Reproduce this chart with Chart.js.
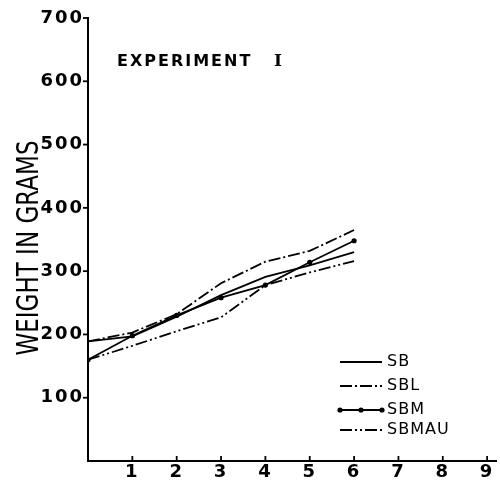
<!DOCTYPE html>
<html>
<head>
<meta charset="utf-8">
<script src="https://cdn.jsdelivr.net/npm/chart.js@4.4.1/dist/chart.umd.min.js"></script>
<style>
  html, body { margin: 0; padding: 0; background: #fff; }
  #chart { display: block; }
</style>
</head>
<body>
<canvas id="chart" width="500" height="488"></canvas>
<script>
// weeks on the x axis, weights in grams
const weeks = [0, 1, 2, 3, 4, 5, 6];
const seriesNames = ['SB', 'SBL', 'SBM', 'SBMAU'];
const sb = [189, 197, 228, 262, 291, 309, 330];
const sbl = [189, 203, 232, 281, 315, 332, 365];
const sbm = [160, 198, 230, 258, 278, 314, 348];
const sbmau = [160, 182, 205, 227, 278, 298, 316];
const xTicks = [1, 2, 3, 4, 5, 6, 7, 8, 9];
const yTicks = [100, 200, 300, 400, 500, 600, 700];

const FONT = 'DejaVu Sans';

function pts(vals) {
  return weeks.map((w, i) => ({ x: w, y: vals[i] }));
}

const styles = [
  { dash: [], dots: false },
  { dash: [12, 3, 2, 3], dots: false },
  { dash: [], dots: true },
  { dash: [12, 3, 2, 3, 2, 3], dots: false }
];

const datasets = [sb, sbl, sbm, sbmau].map((vals, i) => ({
  label: seriesNames[i],
  data: pts(vals),
  borderColor: '#000',
  backgroundColor: '#000',
  borderWidth: 1.8,
  borderDash: styles[i].dash,
  pointRadius: styles[i].dots ? 2.6 : 0,
  pointBorderWidth: 0,
  pointBackgroundColor: '#000',
  tension: 0
}));

/* texts, tick marks and legend drawn on top */
const extras = {
  id: 'extras',
  beforeDraw(chart) {
    // wider spacing for the tick numbers
    chart.ctx.letterSpacing = '2px';
  },
  beforeDatasetsDraw(chart) {
    chart.ctx.letterSpacing = '0px';
  },
  afterDraw(chart) {
    const ctx = chart.ctx;
    const xs = chart.scales.x, ys = chart.scales.y;
    ctx.save();
    ctx.strokeStyle = '#000';
    ctx.fillStyle = '#000';
    ctx.lineWidth = 1.8;

    // y ticks point out, x ticks point in
    ys.ticks.forEach(t => {
      const y = ys.getPixelForValue(t.value);
      ctx.beginPath(); ctx.moveTo(xs.left - 5, y); ctx.lineTo(xs.left, y); ctx.stroke();
    });
    xs.ticks.forEach(t => {
      const x = xs.getPixelForValue(t.value);
      ctx.beginPath(); ctx.moveTo(x, ys.bottom); ctx.lineTo(x, ys.bottom - 5); ctx.stroke();
    });

    // axis title
    ctx.save();
    ctx.translate(30, 248);
    ctx.rotate(-Math.PI / 2);
    ctx.font = '30px "' + FONT + '"';
    ctx.textAlign = 'center';
    ctx.textBaseline = 'middle';
    const label = 'WEIGHT IN GRAMS';
    const w = ctx.measureText(label).width;
    ctx.scale(215 / w, 1);
    ctx.fillText(label, 0, 0);
    ctx.restore();

    // experiment label
    ctx.font = 'bold 16px "' + FONT + '"';
    ctx.textBaseline = 'middle';
    ctx.textAlign = 'left';
    ctx.letterSpacing = '2px';
    ctx.fillText('EXPERIMENT', 117, 62);
    ctx.letterSpacing = '0px';
    ctx.font = 'bold 17px "DejaVu Serif"';
    ctx.fillText('I', 274, 62);

    // legend
    const rows = [362, 386, 410, 430];
    ctx.font = '16px "' + FONT + '"';
    ctx.letterSpacing = '1px';
    chart.data.datasets.forEach((ds, i) => {
      const y = rows[i];
      ctx.setLineDash(ds.borderDash);
      ctx.lineWidth = 1.8;
      ctx.beginPath(); ctx.moveTo(340, y); ctx.lineTo(382, y); ctx.stroke();
      ctx.setLineDash([]);
      if (ds.pointRadius > 0) {
        [340, 361, 382].forEach(px => {
          ctx.beginPath(); ctx.arc(px, y, ds.pointRadius, 0, Math.PI * 2); ctx.fill();
        });
      }
      ctx.fillText(ds.label, 387, y);
    });
    ctx.restore();
  }
};

const tickFont = { family: FONT, size: 18, weight: 'bold' };

new Chart(document.getElementById('chart'), {
  type: 'line',
  data: { datasets },
  options: {
    responsive: false,
    animation: false,
    layout: { padding: { top: 18, right: 4, left: 0, bottom: 0 } },
    plugins: { legend: { display: false }, tooltip: { enabled: false } },
    scales: {
      x: {
        type: 'linear',
        min: 0,
        max: 9.2,
        grid: { drawOnChartArea: false, drawTicks: false },
        border: { color: '#000', width: 2 },
        ticks: { stepSize: 1, color: '#000', font: tickFont, padding: 1, maxRotation: 0 },
        afterBuildTicks: s => { s.ticks = xTicks.map(v => ({ value: v })); },
        afterFit: s => { s.height = 27; }
      },
      y: {
        min: 0,
        max: 700,
        grid: { drawOnChartArea: false, drawTicks: false },
        border: { color: '#000', width: 2 },
        ticks: { stepSize: 100, color: '#000', font: tickFont, padding: 4 },
        afterBuildTicks: s => { s.ticks = yTicks.map(v => ({ value: v })); },
        afterFit: s => { s.width = 88; }
      }
    }
  },
  plugins: [extras]
});
</script>
</body>
</html>
